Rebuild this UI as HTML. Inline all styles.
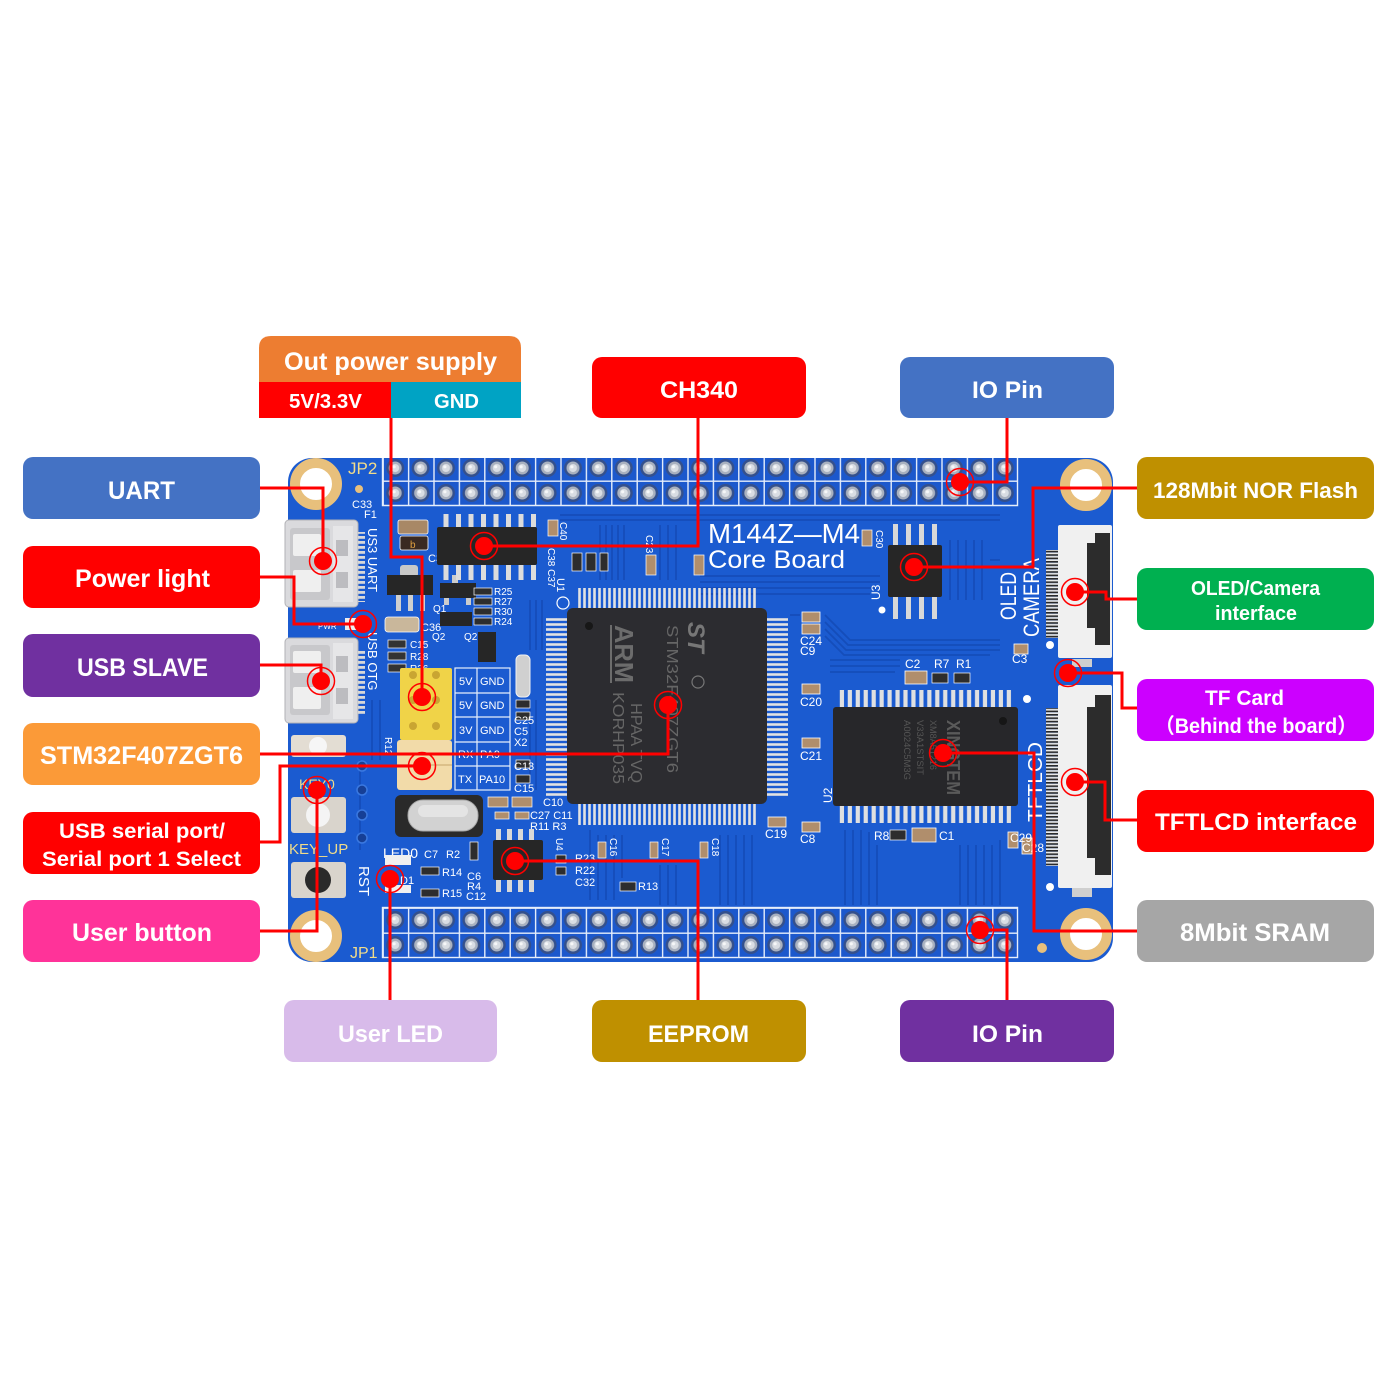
<!DOCTYPE html>
<html><head><meta charset="utf-8">
<style>
html,body{margin:0;padding:0;background:#fff;}
svg{display:block;}
text{font-family:"Liberation Sans","Noto Sans CJK SC",sans-serif;}
.lb{fill:#fff;font-weight:bold;}
.sk{fill:#fff;font-size:11px;}
</style></head><body>
<svg width="1400" height="1400" viewBox="0 0 1400 1400" xmlns="http://www.w3.org/2000/svg">
<defs>
 <pattern id="hdrT" patternUnits="userSpaceOnUse" x="382.5" y="455.5" width="25.4" height="25">
  <rect width="25.4" height="25" fill="#1c58cc"/>
  <path d="M0 0.7H25.4M0.7 0V25" stroke="#e6eefb" stroke-width="1.4"/>
  <circle cx="12.7" cy="12.5" r="9" fill="#34508c"/>
  <circle cx="12.7" cy="12.5" r="6.5" fill="#a9b1bf"/>
  <circle cx="12.7" cy="12.5" r="4" fill="#d9dde3"/>
  <circle cx="11.6" cy="11.3" r="1.6" fill="#f6f7f8"/>
 </pattern>
 <pattern id="hdrB" patternUnits="userSpaceOnUse" x="382.5" y="907.5" width="25.4" height="25">
  <rect width="25.4" height="25" fill="#1c58cc"/>
  <path d="M0 0.7H25.4M0.7 0V25" stroke="#e6eefb" stroke-width="1.4"/>
  <circle cx="12.7" cy="12.5" r="9" fill="#34508c"/>
  <circle cx="12.7" cy="12.5" r="6.5" fill="#a9b1bf"/>
  <circle cx="12.7" cy="12.5" r="4" fill="#d9dde3"/>
  <circle cx="11.6" cy="11.3" r="1.6" fill="#f6f7f8"/>
 </pattern>
 <pattern id="pv" patternUnits="userSpaceOnUse" x="577" width="5" height="40"><rect x="1.2" width="2.6" height="40" fill="#e2e2e2"/></pattern>
 <pattern id="ph" patternUnits="userSpaceOnUse" y="617" width="40" height="5"><rect y="1.2" width="40" height="2.6" fill="#e2e2e2"/></pattern>
 <pattern id="ps" patternUnits="userSpaceOnUse" x="838" width="7.95" height="40"><rect x="1.8" width="4.2" height="40" fill="#e0e0e0"/></pattern>
 <pattern id="pc" patternUnits="userSpaceOnUse" x="440" width="12.5" height="40"><rect x="3.5" width="5" height="40" fill="#dcdcdc"/></pattern>
 <pattern id="fpc" patternUnits="userSpaceOnUse" width="20" height="3.4"><rect width="20" height="1.7" fill="#2a2a2a"/><rect y="1.7" width="20" height="1.7" fill="#e8e8e8"/></pattern>
 <pattern id="usbp" patternUnits="userSpaceOnUse" width="20" height="5"><rect y="1" width="20" height="2.8" fill="#d8d8d8"/></pattern>
</defs>

<rect width="1400" height="1400" fill="#fff"/>

<!-- BOARD -->
<rect x="288" y="458" width="825" height="504" rx="24" fill="#1b5bd0"/>

<!-- traces -->
<g stroke="#144bb6" stroke-width="1.8" fill="none" opacity="0.85">
 <path d="M700 576H880M700 582H880M700 588H875M700 594H870M560 515H1000M560 520H1000"/>
 <path d="M790 615H800M825 615L850 640H1000M825 622L848 645H1000M825 629L846 650H1000M825 636L844 655H990M830 660H900M830 666H900M830 672H895"/>
 <path d="M845 830V905M853 830V905M861 830V905M869 832V905M877 845V905M960 845V905M968 845V905M976 845V905M984 845V905M992 845V905M1000 840V905"/>
 <path d="M590 830V900M598 835V900M606 835V900M614 835V900M622 835V878M660 865V905M668 865V905M676 865V905M720 835V905M728 835V905M736 835V905M744 835V905M752 835V905"/>
 <path d="M530 600V650M536 600V650M542 600V650M530 700V790M536 700V790"/>
 <path d="M600 525V580M606 525V580M612 525V580M618 525V580M624 525V580M660 525V580M668 525V580M676 525V580"/>
 <path d="M950 540V600M958 540V600M966 540V600M974 540V600M982 540V600M990 560H1000"/>
 <path d="M360 760V850M372 700V760M380 700V760"/>
</g>

<!-- mounting holes -->
<g fill="#fff" stroke="#e8c07c" stroke-width="10">
 <circle cx="316" cy="484" r="21"/><circle cx="316" cy="936" r="21"/>
 <circle cx="1086" cy="485" r="21"/><circle cx="1086" cy="934" r="21"/>
</g>
<circle cx="359" cy="489" r="4" fill="#e8c07c"/>
<circle cx="1042" cy="948" r="5" fill="#e8c07c"/>

<!-- headers -->
<rect x="382.5" y="458" width="635" height="47.5" fill="url(#hdrT)"/>
<path d="M382.5 458V505.5H1017.5V458" fill="none" stroke="#e6eefb" stroke-width="1.4"/>
<rect x="382.5" y="907.5" width="635" height="50" fill="url(#hdrB)"/>
<rect x="382.5" y="907.5" width="635" height="50" fill="none" stroke="#e6eefb" stroke-width="1.4"/>

<!-- silkscreen labels -->
<text x="348" y="474" font-size="17" fill="#f1dc8a">JP2</text>
<text x="350" y="958" font-size="16" fill="#f1dc8a">JP1</text>
<text x="352" y="508" class="sk">C33</text>
<text x="364" y="518" class="sk">F1</text>

<!-- USB UART connector -->
<rect x="285" y="520" width="73" height="87" rx="4" fill="#dadadd" stroke="#b2b2b6"/>
<rect x="290" y="528" width="40" height="72" rx="3" fill="#c8c8cb"/>
<rect x="293" y="534" width="28" height="22" rx="2" fill="#efefef"/>
<rect x="293" y="570" width="28" height="22" rx="2" fill="#efefef"/>
<rect x="333" y="526" width="20" height="76" fill="#e6e6e8"/>
<rect x="336" y="540" width="12" height="16" fill="#bcbcc0"/>
<rect x="336" y="572" width="12" height="16" fill="#bcbcc0"/>
<rect x="358" y="532" width="7" height="70" fill="url(#usbp)"/>
<!-- USB OTG connector -->
<rect x="285" y="638" width="73" height="85" rx="4" fill="#dadadd" stroke="#b2b2b6"/>
<rect x="290" y="645" width="40" height="70" rx="3" fill="#c8c8cb"/>
<rect x="293" y="651" width="28" height="22" rx="2" fill="#efefef"/>
<rect x="293" y="687" width="28" height="22" rx="2" fill="#efefef"/>
<rect x="333" y="643" width="20" height="76" fill="#e6e6e8"/>
<rect x="336" y="656" width="12" height="16" fill="#bcbcc0"/>
<rect x="336" y="688" width="12" height="16" fill="#bcbcc0"/>
<rect x="358" y="650" width="7" height="66" fill="url(#usbp)"/>
<text transform="translate(368,528) rotate(90)" font-size="13" fill="#fff">US3 UART</text>
<text transform="translate(368,632) rotate(90)" font-size="13" fill="#fff">USB OTG</text>

<!-- power parts -->
<rect x="398" y="520" width="30" height="14" rx="2" fill="#a88866" stroke="#fff" stroke-width="0.8"/>
<rect x="400" y="536" width="28" height="14" rx="2" fill="#3a2a22" stroke="#fff" stroke-width="0.8"/>
<text x="410" y="548" font-size="10" fill="#e0a040">b</text>
<text x="428" y="562" class="sk">C34</text>
<rect x="400" y="565" width="18" height="12" rx="3" fill="#c8c8c8"/>
<rect x="387" y="575" width="46" height="20" fill="#262626"/>
<rect x="396" y="595" width="5" height="16" fill="#cfcfcf"/>
<rect x="408" y="595" width="5" height="16" fill="#cfcfcf"/>
<rect x="420" y="595" width="5" height="16" fill="#cfcfcf"/>
<rect x="345" y="618" width="24" height="12" fill="#eeeeee"/>
<text x="318" y="629" font-size="8" fill="#fff">PWR</text>
<rect x="385" y="617" width="34" height="15" rx="3" fill="#c9b79b" stroke="#fff" stroke-width="0.8"/>
<text x="421" y="631" class="sk">C36</text>
<g fill="#333" stroke="#fff" stroke-width="0.7">
 <rect x="388" y="640" width="18" height="8"/><rect x="388" y="652" width="18" height="8"/><rect x="388" y="664" width="18" height="8"/>
</g>
<text x="410" y="648" font-size="10" fill="#fff">C15</text>
<text x="410" y="660" font-size="10" fill="#fff">R28</text>
<text x="410" y="672" font-size="10" fill="#fff">R26</text>
<!-- transistors -->
<rect x="440" y="583" width="36" height="15" fill="#262626"/>
<rect x="452" y="575" width="6" height="8" fill="#ccc"/>
<rect x="444" y="598" width="5" height="7" fill="#ccc"/><rect x="466" y="598" width="5" height="7" fill="#ccc"/>
<rect x="440" y="612" width="32" height="14" fill="#262626"/>
<rect x="478" y="632" width="18" height="30" fill="#262626"/>
<text x="433" y="612" font-size="10" fill="#fff">Q1</text>
<text x="432" y="640" font-size="10" fill="#fff">Q2</text>
<text x="464" y="640" font-size="10" fill="#fff">Q2</text>
<g fill="#2d2d2d" stroke="#fff" stroke-width="0.7">
 <rect x="474" y="588" width="18" height="7"/><rect x="474" y="598" width="18" height="7"/><rect x="474" y="608" width="18" height="7"/><rect x="474" y="618" width="18" height="7"/>
</g>
<text x="494" y="595" font-size="10" fill="#fff">R25</text>
<text x="494" y="605" font-size="10" fill="#fff">R27</text>
<text x="494" y="615" font-size="10" fill="#fff">R30</text>
<text x="494" y="625" font-size="10" fill="#fff">R24</text>
<rect x="516" y="655" width="14" height="42" rx="5" fill="#d0d0d0" stroke="#f2f2f2"/>

<!-- CH340 -->
<rect x="440" y="514" width="97" height="13" fill="url(#pc)"/>
<rect x="440" y="565" width="97" height="15" fill="url(#pc)"/>
<rect x="437" y="527" width="100" height="38" rx="2" fill="#262626"/>
<rect x="548" y="520" width="10" height="16" fill="#b08e6c" stroke="#fff" stroke-width="0.7"/>
<text transform="translate(548,548) rotate(90)" font-size="10" fill="#fff">C38 C37</text>
<text transform="translate(560,522) rotate(90)" font-size="10" fill="#fff">C40</text>
<rect x="572" y="553" width="10" height="18" fill="#2d2d2d" stroke="#fff" stroke-width="0.7"/>
<rect x="586" y="553" width="10" height="18" fill="#2d2d2d" stroke="#fff" stroke-width="0.7"/>
<rect x="600" y="553" width="8" height="18" fill="#2d2d2d" stroke="#fff" stroke-width="0.7"/>
<rect x="646" y="555" width="10" height="20" fill="#b08e6c" stroke="#fff" stroke-width="0.7"/>
<text transform="translate(646,535) rotate(90)" font-size="10" fill="#fff">C23</text>
<rect x="694" y="555" width="10" height="20" fill="#b08e6c" stroke="#fff" stroke-width="0.7"/>
<circle cx="563" cy="603" r="6" fill="none" stroke="#fff" stroke-width="1.2"/>
<text transform="translate(557,578) rotate(90)" font-size="11" fill="#fff">U1</text>

<!-- yellow header & jumpers -->
<rect x="400" y="668" width="52" height="72" rx="2" fill="#f0d348"/>
<g fill="#c9a532">
 <circle cx="413" cy="675" r="4"/><circle cx="436" cy="675" r="4"/>
 <circle cx="413" cy="700" r="4"/><circle cx="436" cy="700" r="4"/>
 <circle cx="413" cy="726" r="4"/><circle cx="436" cy="726" r="4"/>
</g>
<rect x="397" y="740" width="55" height="50" rx="3" fill="#f2dba9"/>
<path d="M397 765H452" stroke="#dcc08a" stroke-width="2"/>
<g stroke="#e6eefb" stroke-width="1.2" fill="none">
 <rect x="455" y="668" width="55" height="122"/>
 <path d="M477 668V790M455 693H510M455 717H510M455 742H510M455 766H510"/>
</g>
<g font-size="11" fill="#fff">
 <text x="459" y="685">5V</text><text x="480" y="685">GND</text>
 <text x="459" y="709">5V</text><text x="480" y="709">GND</text>
 <text x="459" y="734">3V</text><text x="480" y="734">GND</text>
 <text x="458" y="758">RX</text><text x="480" y="758">PA9</text>
 <text x="458" y="783">TX</text><text x="479" y="783">PA10</text>
</g>
<g fill="#2d2d2d" stroke="#fff" stroke-width="0.7">
 <rect x="516" y="700" width="14" height="8"/><rect x="516" y="712" width="14" height="8"/>
 <rect x="516" y="760" width="14" height="8"/><rect x="516" y="775" width="14" height="8"/>
</g>
<g font-size="11" fill="#fff">
 <text x="514" y="724">C25</text><text x="514" y="735">C5</text><text x="514" y="746">X2</text><text x="514" y="770">C13</text><text x="514" y="792">C15</text>
</g>

<!-- buttons -->
<rect x="291" y="735" width="55" height="22" rx="3" fill="#e3ddd3"/>
<circle cx="318" cy="746" r="9" fill="#f6f6f6"/>
<text x="299" y="789" font-size="14" fill="#f1dc8a">KEY0</text>
<rect x="291" y="797" width="55" height="36" rx="3" fill="#d9d4cc"/>
<circle cx="318" cy="815" r="12" fill="#f4f4f4"/>
<text x="289" y="854" font-size="15" fill="#f1dc8a">KEY_UP</text>
<rect x="291" y="862" width="55" height="36" rx="3" fill="#d9d4cc"/>
<circle cx="318" cy="880" r="13" fill="#2a2a2a"/>
<text transform="translate(359,866) rotate(90)" font-size="15" fill="#fff">RST</text>
<g fill="#163f96" stroke="#3a78e0" stroke-width="1.5">
 <circle cx="362" cy="766" r="5"/><circle cx="362" cy="790" r="5"/><circle cx="362" cy="815" r="5"/><circle cx="362" cy="838" r="5"/>
</g>
<text transform="translate(385,737) rotate(90)" font-size="10" fill="#fff">R12</text>

<!-- crystal -->
<rect x="395" y="795" width="88" height="42" rx="6" fill="#2a2a2a"/>
<rect x="408" y="800" width="70" height="31" rx="15" fill="#d2d2d2" stroke="#a8a8a8"/>
<rect x="418" y="805" width="50" height="12" rx="6" fill="#e4e4e4"/>
<g fill="#b08e6c" stroke="#fff" stroke-width="0.7">
 <rect x="488" y="797" width="20" height="10"/><rect x="512" y="797" width="20" height="10"/>
 <rect x="495" y="812" width="14" height="7"/><rect x="515" y="812" width="14" height="7"/>
</g>
<g font-size="11" fill="#fff">
 <text x="543" y="806">C10</text><text x="530" y="819">C27 C11</text><text x="530" y="830">R11  R3</text>
 <text x="383" y="858" font-size="14">LED0</text><text x="424" y="858">C7</text><text x="446" y="858">R2</text>
 <text x="442" y="876">R14</text><text x="442" y="897">R15</text>
 <text x="467" y="880">C6</text><text x="467" y="890">R4</text><text x="466" y="900">C12</text>
 <text x="575" y="862">R23</text><text x="575" y="874">R22</text><text x="575" y="886">C32</text>
 <text x="638" y="890">R13</text>
</g>
<rect x="385" y="855" width="26" height="10" fill="#f0f0f0"/>
<rect x="385" y="885" width="26" height="8" fill="#f0f0f0"/>
<text x="400" y="884" font-size="11" fill="#fff">D1</text>
<g fill="#2d2d2d" stroke="#fff" stroke-width="0.7">
 <rect x="421" y="867" width="18" height="8"/><rect x="421" y="889" width="18" height="8"/>
 <rect x="470" y="842" width="8" height="18"/>
 <rect x="556" y="855" width="10" height="8"/><rect x="556" y="867" width="10" height="8"/>
 <rect x="620" y="882" width="16" height="9"/>
</g>
<g fill="#b08e6c" stroke="#fff" stroke-width="0.7">
 <rect x="598" y="842" width="8" height="16"/><rect x="650" y="842" width="8" height="16"/><rect x="700" y="842" width="8" height="16"/>
</g>
<text transform="translate(610,838) rotate(90)" font-size="10" fill="#fff">C16</text>
<text transform="translate(662,838) rotate(90)" font-size="10" fill="#fff">C17</text>
<text transform="translate(712,838) rotate(90)" font-size="10" fill="#fff">C18</text>

<!-- EEPROM -->
<rect x="496" y="829" width="5" height="11" fill="#d8d8d8"/><rect x="507" y="829" width="5" height="11" fill="#d8d8d8"/><rect x="518" y="829" width="5" height="11" fill="#d8d8d8"/><rect x="529" y="829" width="5" height="11" fill="#d8d8d8"/>
<rect x="496" y="880" width="5" height="12" fill="#d8d8d8"/><rect x="507" y="880" width="5" height="12" fill="#d8d8d8"/><rect x="518" y="880" width="5" height="12" fill="#d8d8d8"/><rect x="529" y="880" width="5" height="12" fill="#d8d8d8"/>
<rect x="493" y="840" width="50" height="40" rx="2" fill="#262626"/>
<text transform="translate(556,838) rotate(90)" font-size="10" fill="#fff">U4</text>

<!-- STM32 -->
<rect x="577" y="588" width="181" height="20" fill="url(#pv)"/>
<rect x="577" y="804" width="181" height="21" fill="url(#pv)"/>
<rect x="546" y="617" width="21" height="181" fill="url(#ph)"/>
<rect x="767" y="617" width="21" height="181" fill="url(#ph)"/>
<rect x="567" y="608" width="200" height="196" rx="6" fill="#2c2c30"/>
<circle cx="589" cy="626" r="4" fill="#171717"/>
<path d="M611 625V683" stroke="#6c6c6c" stroke-width="2"/>
<text transform="translate(615,625) rotate(90)" font-size="26" font-weight="bold" fill="#6c6c6c" textLength="58" lengthAdjust="spacingAndGlyphs">ARM</text>
<text transform="translate(613,692) rotate(90)" font-size="16" fill="#666" textLength="92" lengthAdjust="spacingAndGlyphs">KORHP035</text>
<text transform="translate(631,703) rotate(90)" font-size="16" fill="#666" textLength="80" lengthAdjust="spacingAndGlyphs">HPAA TVQ</text>
<text transform="translate(667,625) rotate(90)" font-size="16" fill="#666" textLength="148" lengthAdjust="spacingAndGlyphs">STM32F407ZGT6</text>
<text transform="translate(688,622) rotate(90)" font-size="24" font-weight="bold" font-style="italic" fill="#777">ST</text>
<circle cx="698" cy="682" r="6" fill="none" stroke="#777" stroke-width="1.2"/>

<!-- board title -->
<text x="708" y="543" font-size="28" fill="#fff" textLength="152" lengthAdjust="spacingAndGlyphs">M144Z—M4</text>
<text x="708" y="568" font-size="25" fill="#fff" textLength="137" lengthAdjust="spacingAndGlyphs">Core Board</text>
<rect x="862" y="530" width="10" height="16" fill="#b08e6c" stroke="#fff" stroke-width="0.7"/>
<text transform="translate(876,530) rotate(90)" font-size="10" fill="#fff">C30</text>

<!-- right-of-STM32 caps -->
<g fill="#b08e6c" stroke="#fff" stroke-width="0.8">
 <rect x="802" y="612" width="18" height="10"/><rect x="802" y="624" width="18" height="10"/>
 <rect x="802" y="684" width="18" height="10"/><rect x="802" y="738" width="18" height="10"/>
 <rect x="768" y="817" width="18" height="10"/><rect x="802" y="822" width="18" height="10"/>
 <rect x="905" y="671" width="22" height="13"/><rect x="912" y="828" width="24" height="14"/>
 <rect x="1014" y="644" width="14" height="10"/><rect x="1008" y="832" width="10" height="16"/><rect x="1022" y="838" width="10" height="16"/>
</g>
<g fill="#2d2d2d" stroke="#fff" stroke-width="0.7">
 <rect x="932" y="673" width="16" height="10"/><rect x="954" y="673" width="16" height="10"/><rect x="890" y="830" width="16" height="10"/>
</g>
<g font-size="12" fill="#fff">
 <text x="800" y="645">C24</text><text x="800" y="655">C9</text><text x="800" y="706">C20</text><text x="800" y="760">C21</text>
 <text x="765" y="838">C19</text><text x="800" y="843">C8</text>
 <text x="905" y="668">C2</text><text x="934" y="668">R7</text><text x="956" y="668">R1</text>
 <text x="874" y="840">R8</text><text x="939" y="840">C1</text>
 <text x="1012" y="663">C3</text><text x="1010" y="842">C29</text><text x="1022" y="852">C28</text>
</g>
<text transform="translate(880,600) rotate(-90)" font-size="12" fill="#fff">U3</text>
<text transform="translate(832,803) rotate(-90)" font-size="12" fill="#fff">U2</text>
<g fill="#fff"><circle cx="882" cy="610" r="3.5"/><circle cx="1050" cy="645" r="4"/><circle cx="1027" cy="699" r="4"/><circle cx="1050" cy="887" r="4"/></g>

<!-- SRAM -->
<rect x="838" y="690" width="175" height="17" fill="url(#ps)"/>
<rect x="838" y="806" width="175" height="17" fill="url(#ps)"/>
<rect x="833" y="707" width="185" height="99" rx="3" fill="#27272a"/>
<circle cx="1003" cy="721" r="4" fill="#161616"/>
<text transform="translate(947,720) rotate(90)" font-size="18" font-weight="bold" fill="#5a5a5a" textLength="75" lengthAdjust="spacingAndGlyphs">XINGTEM</text>
<text transform="translate(930,720) rotate(90)" font-size="9" fill="#555" textLength="50" lengthAdjust="spacingAndGlyphs">XM8A51216</text>
<text transform="translate(917,720) rotate(90)" font-size="9" fill="#555" textLength="55" lengthAdjust="spacingAndGlyphs">V33A1STSIT</text>
<text transform="translate(904,720) rotate(90)" font-size="9" fill="#555" textLength="60" lengthAdjust="spacingAndGlyphs">A0024C5M3G</text>

<!-- NOR flash -->
<g fill="#d8d8d8">
 <rect x="893" y="524" width="5" height="21"/><rect x="906" y="524" width="5" height="21"/><rect x="919" y="524" width="5" height="21"/><rect x="932" y="524" width="5" height="21"/>
 <rect x="893" y="597" width="5" height="22"/><rect x="906" y="597" width="5" height="22"/><rect x="919" y="597" width="5" height="22"/><rect x="932" y="597" width="5" height="22"/>
</g>
<rect x="888" y="545" width="54" height="52" rx="2" fill="#262626"/>

<!-- OLED / CAMERA / TFTLCD text -->
<text transform="translate(1016,620) rotate(-90)" font-size="22" fill="#fff" textLength="48" lengthAdjust="spacingAndGlyphs">OLED</text>
<text transform="translate(1039,637) rotate(-90)" font-size="22" fill="#fff" textLength="79" lengthAdjust="spacingAndGlyphs">CAMERA</text>
<text transform="translate(1042,822) rotate(-90)" font-size="20" fill="#fff" textLength="80" lengthAdjust="spacingAndGlyphs">TFTLCD</text>

<!-- FPC connectors -->
<rect x="1046" y="550" width="12" height="88" fill="url(#fpc)"/>
<rect x="1058" y="525" width="54" height="133" rx="2" fill="#f0f0f0"/>
<rect x="1087" y="533" width="23" height="112" fill="#2c2c2c"/>
<rect x="1087" y="533" width="8" height="10" fill="#f0f0f0"/>
<rect x="1087" y="628" width="8" height="17" fill="#f0f0f0"/>
<rect x="1046" y="708" width="12" height="158" fill="url(#fpc)"/>
<rect x="1058" y="685" width="54" height="203" rx="2" fill="#f0f0f0"/>
<rect x="1087" y="695" width="24" height="180" fill="#2c2c2c"/>
<rect x="1087" y="695" width="8" height="12" fill="#f0f0f0"/>
<rect x="1087" y="858" width="8" height="17" fill="#f0f0f0"/>
<rect x="1072" y="888" width="20" height="9" fill="#cfcfcf"/>
<rect x="1072" y="659" width="20" height="8" fill="#cfcfcf"/>

<!-- LABEL BOXES: left -->
<rect x="23" y="457" width="237" height="62" rx="10" fill="#4472c4"/>
<text class="lb" x="141.5" y="499" font-size="25" text-anchor="middle" textLength="67" lengthAdjust="spacingAndGlyphs">UART</text>
<rect x="23" y="546" width="237" height="62" rx="10" fill="#ff0000"/>
<text class="lb" x="142.5" y="587" font-size="25" text-anchor="middle" textLength="135" lengthAdjust="spacingAndGlyphs">Power light</text>
<rect x="23" y="634" width="237" height="63" rx="10" fill="#7030a0"/>
<text class="lb" x="142.5" y="676" font-size="25" text-anchor="middle" textLength="131" lengthAdjust="spacingAndGlyphs">USB SLAVE</text>
<rect x="23" y="723" width="237" height="62" rx="10" fill="#fb9a38"/>
<text class="lb" x="141.5" y="764" font-size="25" text-anchor="middle" textLength="203" lengthAdjust="spacingAndGlyphs">STM32F407ZGT6</text>
<rect x="23" y="812" width="237" height="62" rx="10" fill="#ff0000"/>
<text class="lb" x="142" y="838" font-size="21" text-anchor="middle" textLength="166" lengthAdjust="spacingAndGlyphs">USB serial port/</text>
<text class="lb" x="141.5" y="866" font-size="21" text-anchor="middle" textLength="199" lengthAdjust="spacingAndGlyphs">Serial port 1 Select</text>
<rect x="23" y="900" width="237" height="62" rx="10" fill="#ff3399"/>
<text class="lb" x="142" y="941" font-size="25" text-anchor="middle" textLength="140" lengthAdjust="spacingAndGlyphs">User button</text>

<!-- right -->
<rect x="1137" y="457" width="237" height="62" rx="10" fill="#bf9000"/>
<text class="lb" x="1255.5" y="498" font-size="22" text-anchor="middle" textLength="205" lengthAdjust="spacingAndGlyphs">128Mbit NOR Flash</text>
<rect x="1137" y="568" width="237" height="62" rx="10" fill="#00b050"/>
<text class="lb" x="1255.5" y="595" font-size="20" text-anchor="middle" textLength="129" lengthAdjust="spacingAndGlyphs">OLED/Camera</text>
<text class="lb" x="1256" y="620" font-size="20" text-anchor="middle" textLength="82" lengthAdjust="spacingAndGlyphs">interface</text>
<rect x="1137" y="679" width="237" height="62" rx="10" fill="#cc00ff"/>
<text class="lb" x="1244.5" y="705" font-size="21" text-anchor="middle" textLength="79" lengthAdjust="spacingAndGlyphs">TF Card</text>
<text class="lb" x="1256" y="733" font-size="21" text-anchor="middle" textLength="202" lengthAdjust="spacingAndGlyphs">（Behind the board）</text>
<rect x="1137" y="790" width="237" height="62" rx="10" fill="#ff0000"/>
<text class="lb" x="1256" y="830" font-size="24" text-anchor="middle" textLength="202" lengthAdjust="spacingAndGlyphs">TFTLCD interface</text>
<rect x="1137" y="900" width="237" height="62" rx="10" fill="#a6a6a6"/>
<text class="lb" x="1255" y="941" font-size="25" text-anchor="middle" textLength="150" lengthAdjust="spacingAndGlyphs">8Mbit SRAM</text>

<!-- top -->
<path d="M259 382V348Q259 336 271 336H509Q521 336 521 348V382Z" fill="#ed7d31"/>
<rect x="259" y="382" width="132" height="36" fill="#ff0000"/>
<rect x="391" y="382" width="130" height="36" fill="#00a3c4"/>
<text class="lb" x="390.5" y="370" font-size="25" text-anchor="middle" textLength="213" lengthAdjust="spacingAndGlyphs">Out power supply</text>
<text class="lb" x="325.5" y="408" font-size="20" text-anchor="middle" textLength="73" lengthAdjust="spacingAndGlyphs">5V/3.3V</text>
<text class="lb" x="456.5" y="408" font-size="20" text-anchor="middle" textLength="45" lengthAdjust="spacingAndGlyphs">GND</text>
<rect x="592" y="357" width="214" height="61" rx="10" fill="#ff0000"/>
<text class="lb" x="699" y="398" font-size="24" text-anchor="middle" textLength="78" lengthAdjust="spacingAndGlyphs">CH340</text>
<rect x="900" y="357" width="214" height="61" rx="10" fill="#4472c4"/>
<text class="lb" x="1007.5" y="398" font-size="24" text-anchor="middle" textLength="71" lengthAdjust="spacingAndGlyphs">IO Pin</text>

<!-- bottom -->
<rect x="284" y="1000" width="213" height="62" rx="10" fill="#d8bbea"/>
<text class="lb" x="390.5" y="1042" font-size="24" text-anchor="middle" textLength="105" lengthAdjust="spacingAndGlyphs">User LED</text>
<rect x="592" y="1000" width="214" height="62" rx="10" fill="#bf9000"/>
<text class="lb" x="698.5" y="1042" font-size="24" text-anchor="middle" textLength="101" lengthAdjust="spacingAndGlyphs">EEPROM</text>
<rect x="900" y="1000" width="214" height="62" rx="10" fill="#7030a0"/>
<text class="lb" x="1007.5" y="1042" font-size="24" text-anchor="middle" textLength="71" lengthAdjust="spacingAndGlyphs">IO Pin</text>

<!-- CONNECTORS -->
<g stroke="#ff0000" stroke-width="3" fill="none" stroke-linejoin="miter">
 <path d="M391 418V557H422V697"/>
 <path d="M698 418V546H484"/>
 <path d="M1007 418V482H960"/>
 <path d="M260 488H323V561"/>
 <path d="M260 577H294V624H363"/>
 <path d="M260 665H321V681"/>
 <path d="M260 754H668V705"/>
 <path d="M260 842H280V766H422"/>
 <path d="M260 931H317V790"/>
 <path d="M390 1000V879"/>
 <path d="M698 1000V861H515"/>
 <path d="M1007 1000V930H980"/>
 <path d="M1137 488H1033V567H914"/>
 <path d="M1137 599H1106V592H1075"/>
 <path d="M1137 708H1122V673H1068"/>
 <path d="M1137 820H1105V782H1075"/>
 <path d="M1137 931H1034V753H943"/>
</g>
<g fill="#ff0000">
 <circle cx="422" cy="697" r="9"/><circle cx="484" cy="546" r="9"/><circle cx="960" cy="482" r="9"/>
 <circle cx="323" cy="561" r="9"/><circle cx="363" cy="624" r="9"/><circle cx="321" cy="681" r="9"/>
 <circle cx="668" cy="705" r="9"/><circle cx="422" cy="766" r="9"/><circle cx="317" cy="790" r="9"/>
 <circle cx="390" cy="879" r="9"/><circle cx="515" cy="861" r="9"/><circle cx="980" cy="930" r="9"/>
 <circle cx="914" cy="567" r="9"/><circle cx="1075" cy="592" r="9"/><circle cx="1068" cy="673" r="9"/>
 <circle cx="1075" cy="782" r="9"/><circle cx="943" cy="753" r="9"/>
</g>
<g fill="none" stroke="#ff0000" stroke-width="1.5">
 <circle cx="422" cy="697" r="13.5"/><circle cx="484" cy="546" r="13.5"/><circle cx="960" cy="482" r="13.5"/>
 <circle cx="323" cy="561" r="13.5"/><circle cx="363" cy="624" r="13.5"/><circle cx="321" cy="681" r="13.5"/>
 <circle cx="668" cy="705" r="13.5"/><circle cx="422" cy="766" r="13.5"/><circle cx="317" cy="790" r="13.5"/>
 <circle cx="390" cy="879" r="13.5"/><circle cx="515" cy="861" r="13.5"/><circle cx="980" cy="930" r="13.5"/>
 <circle cx="914" cy="567" r="13.5"/><circle cx="1075" cy="592" r="13.5"/><circle cx="1068" cy="673" r="13.5"/>
 <circle cx="1075" cy="782" r="13.5"/><circle cx="943" cy="753" r="13.5"/>
</g>
</svg>
</body></html>
